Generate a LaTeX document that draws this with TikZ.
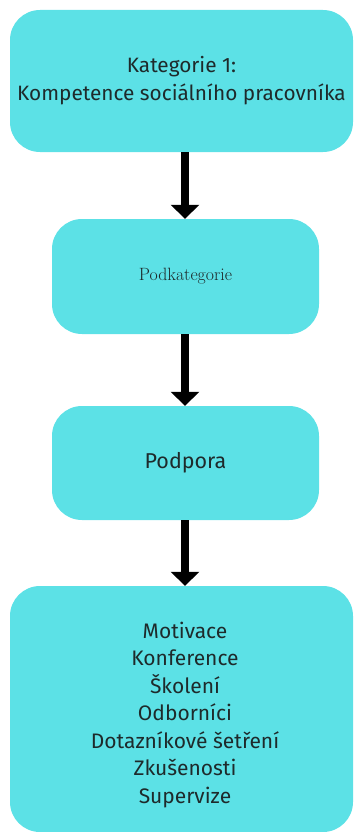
\documentclass[tikz,border=0pt]{standalone}
\usepackage{fontspec}
\setmainfont{Fira Sans}
\newfontfamily\podfont{Latin Modern Roman}
\usetikzlibrary{arrows.meta}
\definecolor{boxfill}{HTML}{5CE1E6}
\definecolor{boxtext}{HTML}{1E2A2B}
\tikzset{
  stage/.style={rectangle, rounded corners=30pt, fill=boxfill, draw=none,
    text=boxtext, align=center, inner sep=0pt},
  flow/.style={line width=8pt, -{Triangle[width=28pt,length=14pt]}, black},
}
\begin{document}
\begin{tikzpicture}[x=1pt,y=-1pt]
  \useasboundingbox (0,0) rectangle (355,832);
  % four stages of the category
  \node[stage, minimum width=343pt, minimum height=142pt,
        font=\fontsize{20.8}{28}\selectfont] (cat) at (181.5,81)
    {Kategorie 1:\\Kompetence sociálního pracovníka};
  \node[stage, minimum width=267pt, minimum height=115pt,
        font=\podfont\fontsize{17.8}{20}\selectfont] (sub) at (185.5,276.5)
    {Podkategorie};
  \node[stage, minimum width=267pt, minimum height=114pt,
        font=\fontsize{21.5}{24}\selectfont] (sup) at (185.5,463)
    {Podpora};
  \node[stage, minimum width=343pt, minimum height=246pt] (items) at (181.5,709) {};
  \node[text=boxtext, align=center, font=\fontsize{21}{27.5}\selectfont]
    (itemtext) at (185,715)
    {Motivace\\Konference\\Školení\\Odborníci\\Dotazníkové šetření\\Zkušenosti\\Supervize};
  % connectors
  \draw[flow] (cat.south -| 185,0) -- (sub.north -| 185,0);
  \draw[flow] (sub.south -| 185,0) -- (sup.north -| 185,0);
  \draw[flow] (sup.south -| 185,0) -- (items.north -| 185,0);
\end{tikzpicture}
\end{document}
